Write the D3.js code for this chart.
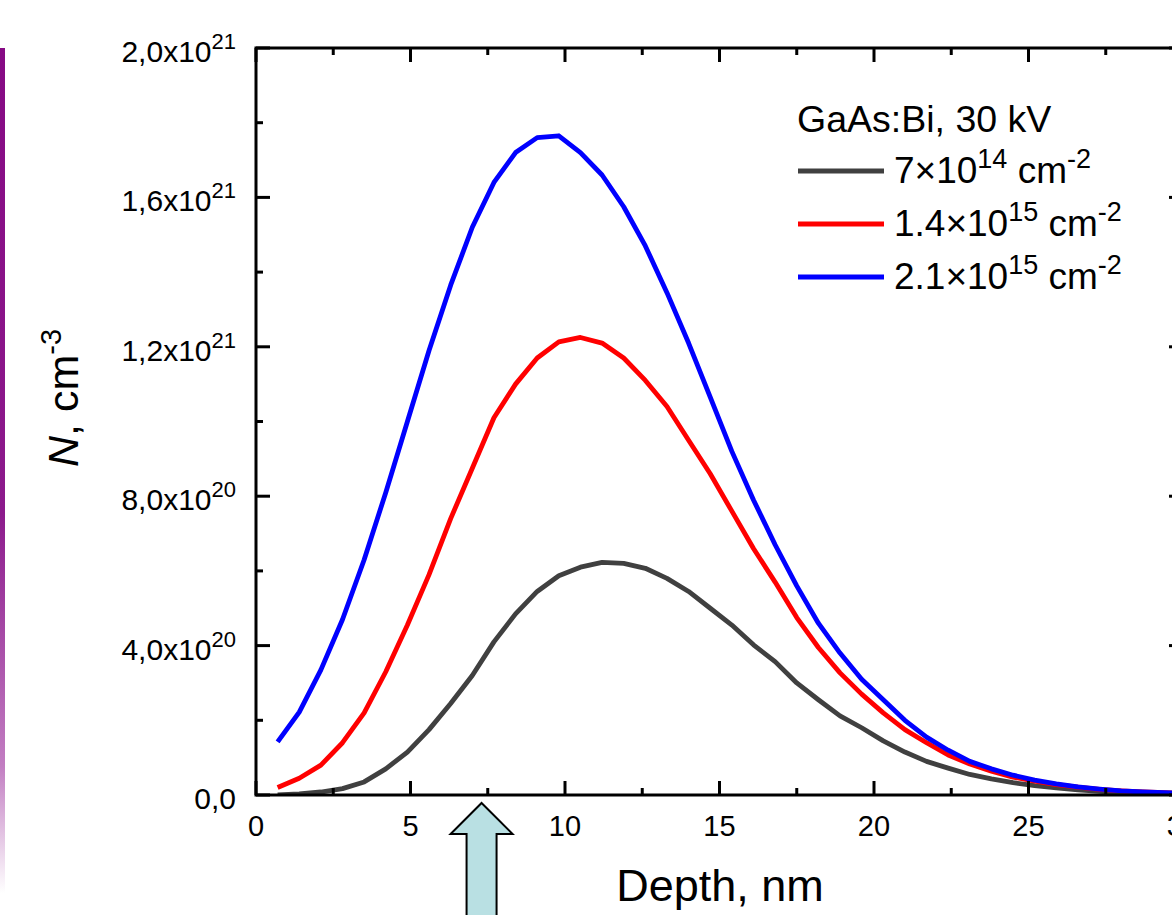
<!DOCTYPE html>
<html><head><meta charset="utf-8">
<script src="https://cdn.jsdelivr.net/npm/d3@7"></script>
<style>
html,body{margin:0;padding:0;background:#fff;}
svg{display:block;font-family:"Liberation Sans",Arial,sans-serif;}
</style></head>
<body>
<svg id="chart" width="1172" height="915"></svg>
<script>
// ---- data (N in units of 1e20 cm^-3) ----
const depth = [0.7,1.4,2.1,2.8,3.5,4.2,4.9,5.6,6.3,7.0,7.7,8.4,9.1,9.8,10.5,11.2,11.9,12.6,13.3,14.0,14.7,15.4,16.1,16.8,17.5,18.2,18.9,19.6,20.3,21.0,21.7,22.4,23.1,23.8,24.5,25.2,25.9,26.6,27.3,28.0,28.7,29.4,30.1];
const dose7e14 = [0.0,0.03,0.08,0.17,0.35,0.7,1.15,1.75,2.45,3.2,4.1,4.85,5.45,5.87,6.1,6.23,6.2,6.07,5.8,5.45,5.0,4.55,4.02,3.57,3.0,2.55,2.12,1.8,1.45,1.15,0.9,0.72,0.55,0.43,0.33,0.25,0.19,0.14,0.1,0.07,0.05,0.04,0.03];
const dose14e15 = [0.2,0.45,0.8,1.4,2.2,3.3,4.55,5.9,7.4,8.75,10.1,11.0,11.7,12.13,12.25,12.1,11.7,11.1,10.4,9.5,8.6,7.6,6.6,5.7,4.75,3.95,3.27,2.7,2.2,1.75,1.4,1.07,0.83,0.64,0.48,0.37,0.28,0.21,0.15,0.11,0.08,0.06,0.04];
const dose21e15 = [1.42,2.22,3.35,4.7,6.3,8.1,10.0,11.9,13.65,15.2,16.4,17.2,17.6,17.65,17.2,16.6,15.75,14.7,13.45,12.1,10.65,9.2,7.9,6.7,5.6,4.6,3.8,3.1,2.55,2.0,1.55,1.2,0.9,0.7,0.53,0.4,0.3,0.22,0.16,0.11,0.08,0.06,0.04];
const seriesNames = ["7×10|14| cm|-2","1.4×10|15| cm|-2","2.1×10|15| cm|-2"];
const seriesColors = ["#404040","#ff0000","#0000ff"];
const legendTitle = "GaAs:Bi, 30 kV";
const xTicks = [0,5,10,15,20,25,30];
const xMinorTicks = [2.5,7.5,12.5,17.5,22.5,27.5];
const yTicks = [0,4,8,12,16,20];
const yMinorTicks = [2,6,10,14,18];
const yTickMant = ["0,0","4,0x10","8,0x10","1,2x10","1,6x10","2,0x10"];
const yTickExp = ["","20","20","21","21","21"];
const xLabel = "Depth, nm";

const svg = d3.select("#chart");
const L = 256, R = 1183, T = 48, B = 795;
const x = d3.scaleLinear().domain([0,30]).range([L,R]);
const y = d3.scaleLinear().domain([0,20]).range([B,T]);

// purple decorative bar at left edge
const defs = svg.append("defs");
const grad = defs.append("linearGradient").attr("id","pg").attr("x1",0).attr("y1",0).attr("x2",0).attr("y2",1);
grad.append("stop").attr("offset","0").attr("stop-color","#860a84");
grad.append("stop").attr("offset","0.55").attr("stop-color","#8c1a8c");
grad.append("stop").attr("offset","0.85").attr("stop-color","#c27ec2");
grad.append("stop").attr("offset","1").attr("stop-color","#ffffff");
svg.append("rect").attr("x",0).attr("y",T).attr("width",5).attr("height",845).attr("fill","url(#pg)");

defs.append("clipPath").attr("id","clip").append("rect")
  .attr("x",L).attr("y",T).attr("width",R-L).attr("height",B-T);

// series lines
const allSeries = [dose7e14, dose14e15, dose21e15];
const line = d3.line().x((d,i)=>x(depth[i])).y(d=>y(d));
const g = svg.append("g").attr("clip-path","url(#clip)");
allSeries.forEach((s,k)=>{
  g.append("path").datum(s).attr("d",line).attr("fill","none")
   .attr("stroke",seriesColors[k]).attr("stroke-width",4.8).attr("stroke-linejoin","round");
});

// frame
svg.append("rect").attr("x",L).attr("y",T).attr("width",R-L).attr("height",B-T)
  .attr("fill","none").attr("stroke","#000").attr("stroke-width",3);

// ticks (inward)
const tk = svg.append("g").attr("stroke","#000").attr("stroke-width",3);
xTicks.forEach(v=>{
  tk.append("line").attr("x1",x(v)).attr("x2",x(v)).attr("y1",B).attr("y2",B-14);
  tk.append("line").attr("x1",x(v)).attr("x2",x(v)).attr("y1",T).attr("y2",T+14);
});
xMinorTicks.forEach(v=>{
  tk.append("line").attr("x1",x(v)).attr("x2",x(v)).attr("y1",B).attr("y2",B-7);
  tk.append("line").attr("x1",x(v)).attr("x2",x(v)).attr("y1",T).attr("y2",T+7);
});
yTicks.forEach(v=>{
  tk.append("line").attr("x1",L).attr("x2",L+14).attr("y1",y(v)).attr("y2",y(v));
  tk.append("line").attr("x1",R).attr("x2",R-14).attr("y1",y(v)).attr("y2",y(v));
});
yMinorTicks.forEach(v=>{
  tk.append("line").attr("x1",L).attr("x2",L+7).attr("y1",y(v)).attr("y2",y(v));
  tk.append("line").attr("x1",R).attr("x2",R-7).attr("y1",y(v)).attr("y2",y(v));
});

// x tick labels
xTicks.forEach(v=>{
  svg.append("text").attr("x",x(v)).attr("y",B+41).attr("text-anchor","middle")
    .attr("font-size",29).attr("fill","#000").text(v);
});
// y tick labels
yTicks.forEach((v,i)=>{
  const t = svg.append("text").attr("x",236).attr("y",y(v)+14).attr("text-anchor","end")
    .attr("font-size",30).attr("fill","#000");
  t.append("tspan").text(yTickMant[i]);
  if (yTickExp[i]) t.append("tspan").attr("font-size",22).attr("dy",-13).text(yTickExp[i]);
});

// axis titles
svg.append("text").attr("x",720).attr("y",901).attr("text-anchor","middle")
  .attr("font-size",45).attr("fill","#000").text(xLabel);
const yl = svg.append("text").attr("transform","translate(78,398) rotate(-90)")
  .attr("text-anchor","middle").attr("font-size",43).attr("fill","#000");
yl.append("tspan").attr("font-style","italic").text("N");
yl.append("tspan").text(", cm");
yl.append("tspan").attr("font-size",29).attr("dy",-17).text("-3");

// legend
svg.append("text").attr("x",797).attr("y",132).attr("font-size",37.5).attr("fill","#000").text(legendTitle);
const legY = [171,224,277];
seriesNames.forEach((nm,k)=>{
  svg.append("line").attr("x1",798).attr("x2",884).attr("y1",legY[k]).attr("y2",legY[k])
    .attr("stroke",seriesColors[k]).attr("stroke-width",4.8);
  const parts = nm.split("|");
  const t = svg.append("text").attr("x",894).attr("y",legY[k]+12).attr("font-size",37).attr("fill","#000");
  t.append("tspan").text(parts[0]);
  t.append("tspan").attr("font-size",27).attr("dy",-15).text(parts[1]);
  t.append("tspan").attr("dy",15).text(parts[2]);
  t.append("tspan").attr("font-size",27).attr("dy",-15).text(parts[3]);
});

// arrow annotation
const ax = x(7.3), tipY = 803;
const arrow = [[ax,tipY],[ax+31,tipY+31],[ax+15,tipY+31],[ax+15,925],[ax-15,925],[ax-15,tipY+31],[ax-31,tipY+31]];
svg.append("polygon").attr("points",arrow.map(p=>p.join(",")).join(" "))
  .attr("fill","#b9e0e3").attr("stroke","#000").attr("stroke-width",2);
</script>
</body></html>
